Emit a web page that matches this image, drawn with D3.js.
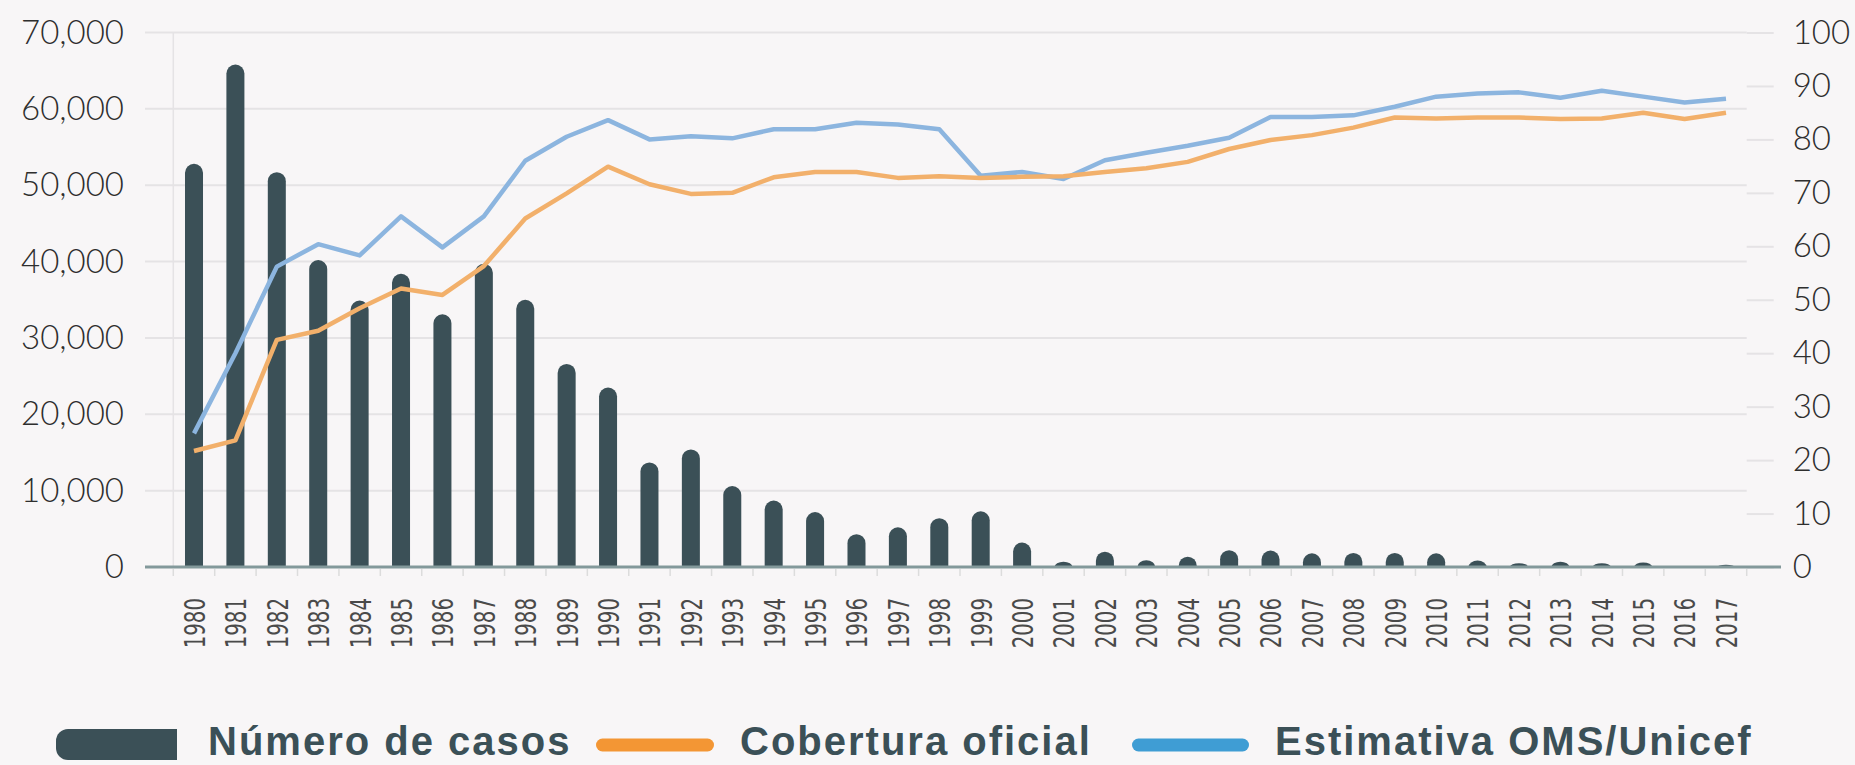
<!DOCTYPE html>
<html>
<head>
<meta charset="utf-8">
<script src="https://cdn.jsdelivr.net/npm/d3@7"></script>
<style>
  html, body { margin: 0; padding: 0; background: #f8f6f7; }
  #stage { width: 1855px; height: 765px; }
</style>
</head>
<body>
<div id="stage"></div>
<script>
// chart values
var years = ["1980", "1981", "1982", "1983", "1984", "1985", "1986", "1987", "1988", "1989",
  "1990", "1991", "1992", "1993", "1994", "1995", "1996", "1997", "1998", "1999",
  "2000", "2001", "2002", "2003", "2004", "2005", "2006", "2007", "2008", "2009",
  "2010", "2011", "2012", "2013", "2014", "2015", "2016", "2017"];
var cases = [52800, 65800, 51700, 40200, 34900, 38400, 33100, 39700, 35000, 26600,
  23500, 13700, 15400, 10600, 8700, 7200, 4300, 5200, 6400, 7300,
  3200, 700, 2000, 900, 1350, 2200, 2150, 1800, 1850, 1850,
  1800, 850, 500, 700, 500, 600, 0, 300];
var official = [21.7, 23.7, 42.5, 44.2, 48.4, 52.1, 50.9, 56.3, 65.2, 69.9,
  74.9, 71.6, 69.8, 70.0, 72.9, 73.9, 73.9, 72.8, 73.1, 72.8,
  73.0, 73.1, 73.9, 74.6, 75.8, 78.2, 79.9, 80.8, 82.2, 84.1,
  83.9, 84.1, 84.1, 83.8, 83.9, 85.0, 83.8, 85.0];
var who = [25.0, 40.0, 56.2, 60.4, 58.3, 65.6, 59.8, 65.6, 76.0, 80.5,
  83.6, 80.0, 80.6, 80.2, 81.9, 81.9, 83.1, 82.8, 81.9, 73.2,
  73.9, 72.6, 76.1, 77.5, 78.8, 80.3, 84.2, 84.2, 84.5, 86.1,
  88.0, 88.6, 88.8, 87.8, 89.1, 88.0, 86.9, 87.6];
var leftTicks = [0, 10000, 20000, 30000, 40000, 50000, 60000, 70000];
var rightTicks = [0, 10, 20, 30, 40, 50, 60, 70, 80, 90, 100];
var legendLabels = ["Número de casos", "Cobertura oficial", "Estimativa OMS/Unicef"];

var stage_width = 1855;
var stage_height = 765;

build_scene();

function build_scene() {
  var plot = { left: 173.3, right: 1746.7, top: 32.5, bottom: 567 };
  var grid_color = "#e5e3e5";
  var text_color = "#2e2e2e";
  var bar_color = "#3b5057";

  var svg = d3.select("#stage")
    .append("svg")
    .attr("width", stage_width)
    .attr("height", stage_height);

  svg.append("rect")
    .attr("width", stage_width)
    .attr("height", stage_height)
    .attr("fill", "#f8f6f7");

  // scales
  var x = d3.scaleBand().domain(years).range([plot.left, plot.right]).padding(0);
  var yL = d3.scaleLinear().domain([0, 70000]).range([plot.bottom, plot.top]);
  var yR = d3.scaleLinear().domain([0, 100]).range([plot.bottom, plot.top]);

  // horizontal gridlines
  svg.append("g")
    .selectAll("line")
    .data(leftTicks)
    .enter()
    .append("line")
    .attr("x1", 145)
    .attr("x2", plot.right)
    .attr("y1", function(d) { return yL(d); })
    .attr("y2", function(d) { return yL(d); })
    .attr("stroke", grid_color)
    .attr("stroke-width", 2);

  // light vertical line at the start of the plot
  svg.append("line")
    .attr("x1", plot.left).attr("x2", plot.left)
    .attr("y1", plot.top).attr("y2", plot.bottom)
    .attr("stroke", grid_color)
    .attr("stroke-width", 1.5);

  // left axis
  var leftAxis = svg.append("g")
    .attr("transform", "translate(145,0)")
    .call(d3.axisLeft(yL).tickValues(leftTicks).tickSize(0).tickPadding(21).tickFormat(d3.format(",")));
  leftAxis.select(".domain").remove();
  leftAxis.selectAll("text")
    .attr("font-family", "Lato, 'Open Sans', sans-serif")
    .attr("font-weight", 300)
    .attr("font-size", 33)
    .attr("fill", text_color);

  // right axis
  var rightAxis = svg.append("g")
    .attr("transform", "translate(" + plot.right + ",0)")
    .call(d3.axisRight(yR).tickValues(rightTicks).tickSize(27).tickPadding(19));
  rightAxis.select(".domain").remove();
  rightAxis.selectAll("line")
    .attr("stroke", grid_color)
    .attr("stroke-width", 2);
  rightAxis.selectAll("text")
    .attr("font-family", "Lato, 'Open Sans', sans-serif")
    .attr("font-weight", 300)
    .attr("font-size", 33)
    .attr("fill", text_color);

  // bars with rounded tops
  var bar_w = x.bandwidth() * 0.435;
  svg.append("g")
    .selectAll("path")
    .data(years)
    .enter()
    .append("path")
    .attr("fill", bar_color)
    .attr("d", function(d, i) {
      var h = plot.bottom - yL(cases[i]);
      if (h <= 0) return null;
      var x0 = x(d) + (x.bandwidth() - bar_w) / 2;
      var rx = bar_w / 2;
      var ry = Math.min(rx, h);
      var top = yL(cases[i]);
      return "M" + x0 + "," + plot.bottom +
        "V" + (top + ry) +
        "A" + rx + "," + ry + " 0 0 1 " + (x0 + bar_w) + "," + (top + ry) +
        "V" + plot.bottom + "Z";
    });

  // coverage lines
  var line_cov = d3.line()
    .x(function(d, i) { return x(years[i]) + x.bandwidth() / 2; })
    .y(function(d) { return yR(d); });

  svg.append("path")
    .datum(who)
    .attr("fill", "none")
    .attr("stroke", "#8cb5df")
    .attr("stroke-width", 4.5)
    .attr("stroke-linejoin", "round")
    .attr("d", line_cov);

  svg.append("path")
    .datum(official)
    .attr("fill", "none")
    .attr("stroke", "#f2b06b")
    .attr("stroke-width", 4.5)
    .attr("stroke-linejoin", "round")
    .attr("d", line_cov);

  // bottom axis line
  svg.append("line")
    .attr("x1", 145).attr("x2", 1781)
    .attr("y1", plot.bottom).attr("y2", plot.bottom)
    .attr("stroke", "#83999b")
    .attr("stroke-width", 3);

  // tick marks between the bars
  var bounds = years.map(function(d) { return x(d); }).concat([plot.right]);
  svg.append("g")
    .selectAll("line")
    .data(bounds)
    .enter()
    .append("line")
    .attr("x1", function(d) { return d; })
    .attr("x2", function(d) { return d; })
    .attr("y1", plot.bottom + 2)
    .attr("y2", plot.bottom + 9)
    .attr("stroke", "#dcdcdc")
    .attr("stroke-width", 1.5);

  // rotated year labels
  svg.append("g")
    .selectAll("text")
    .data(years)
    .enter()
    .append("text")
    .attr("transform", function(d) {
      return "translate(" + (x(d) + x.bandwidth() / 2 + 1.5) + ",598) rotate(-90) scale(1,1.25)";
    })
    .attr("text-anchor", "end")
    .attr("dominant-baseline", "central")
    .attr("font-family", "'DejaVu Sans Condensed', 'DejaVu Sans', sans-serif")
    .attr("font-stretch", "condensed")
    .attr("font-size", 22)
    .attr("fill", "#4a4a4a")
    .text(function(d) { return d; });

  // legend
  var legend = svg.append("g");
  legend.append("path")
    .attr("fill", bar_color)
    .attr("d", "M177,729V760H68A12,12 0 0 1 56,748V741A12,12 0 0 1 68,729Z");
  legend.append("rect")
    .attr("x", 596).attr("y", 738.5)
    .attr("width", 118).attr("height", 13)
    .attr("rx", 6.5)
    .attr("fill", "#f39634");
  legend.append("rect")
    .attr("x", 1132).attr("y", 738.5)
    .attr("width", 117).attr("height", 13)
    .attr("rx", 6.5)
    .attr("fill", "#3f9dd4");

  var legend_x = [208, 740, 1275];
  legend.selectAll("text")
    .data(legendLabels)
    .enter()
    .append("text")
    .attr("x", function(d, i) { return legend_x[i]; })
    .attr("y", 755)
    .attr("font-family", "'Liberation Sans', Arial, sans-serif")
    .attr("font-weight", "bold")
    .attr("font-size", 40)
    .attr("letter-spacing", 2)
    .attr("fill", "#3b5057")
    .text(function(d) { return d; });
}
</script>
</body>
</html>
